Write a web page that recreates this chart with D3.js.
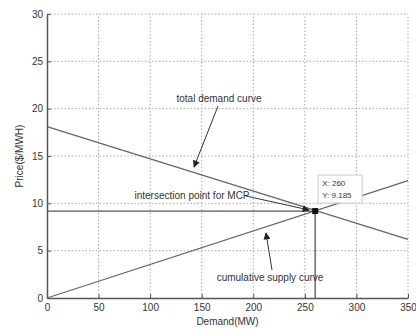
<!DOCTYPE html>
<html>
<head>
<meta charset="utf-8">
<script src="https://cdn.jsdelivr.net/npm/d3@7"></script>
<style>
  body { margin: 0; background: #fff; }
  text { font-family: "Liberation Sans", Arial, sans-serif; fill: #333; }
</style>
</head>
<body>
<div id="chart"></div>
<script>
// Market clearing price chart

var xTicks = [0, 50, 100, 150, 200, 250, 300, 350];
var yTicks = [0, 5, 10, 15, 20, 25, 30];

// curves: [demand MW, price $/MWH]
var demandCurve = [[0, 18.1], [350, 6.2]];
var supplyCurve = [[0, 0], [350, 12.4]];

// intersection point (data tip)
var mcpX = 260;
var mcpY = 9.185;

var width = 416, height = 329;
var margin = {top: 14, right: 8, bottom: 31, left: 47};

var svg = d3.select("#chart")
    .append("svg")
    .attr("width", width)
    .attr("height", height);

var x = d3.scaleLinear().domain([0, 350]).range([margin.left, width - margin.right]);
var y = d3.scaleLinear().domain([0, 30]).range([height - margin.bottom, margin.top]);

var defs = svg.append("defs");
defs.append("marker")
    .attr("id", "arrow")
    .attr("viewBox", "0 0 10 10")
    .attr("refX", 9)
    .attr("refY", 5)
    .attr("markerWidth", 9)
    .attr("markerHeight", 7)
    .attr("markerUnits", "userSpaceOnUse")
    .attr("orient", "auto")
    .append("path")
    .attr("d", "M0,0 L10,5 L0,10 Z")
    .attr("fill", "#222");

// grid
var grid = svg.append("g").attr("class", "grid");
grid.selectAll("line.vx")
    .data(xTicks.slice(1))
    .enter().append("line")
    .attr("x1", function(d) { return x(d); })
    .attr("x2", function(d) { return x(d); })
    .attr("y1", y(0))
    .attr("y2", y(30))
    .attr("stroke", "#aaa")
    .attr("stroke-dasharray", "1.5,2");
grid.selectAll("line.hy")
    .data(yTicks.slice(1))
    .enter().append("line")
    .attr("y1", function(d) { return y(d); })
    .attr("y2", function(d) { return y(d); })
    .attr("x1", x(0))
    .attr("x2", x(350))
    .attr("stroke", "#aaa")
    .attr("stroke-dasharray", "1.5,2");

// axes
var xAxis = svg.append("g")
    .attr("transform", "translate(0," + y(0) + ")")
    .call(d3.axisBottom(x).tickValues(xTicks).tickSizeInner(-4).tickSizeOuter(0).tickPadding(6));
var yAxis = svg.append("g")
    .attr("transform", "translate(" + x(0) + ",0)")
    .call(d3.axisLeft(y).tickValues(yTicks).tickSizeInner(-4).tickSizeOuter(0).tickPadding(4));

[xAxis, yAxis].forEach(function(a) {
    a.select(".domain").attr("stroke", "#555").attr("stroke-width", 1.5);
    a.selectAll(".tick line").attr("stroke", "#555");
    a.selectAll(".tick text")
        .style("font-size", "10px")
        .style("font-family", "'Liberation Sans', Arial, sans-serif")
        .attr("fill", "#444");
});

// curves
var line = d3.line()
    .x(function(d) { return x(d[0]); })
    .y(function(d) { return y(d[1]); });

svg.append("path").datum(demandCurve)
    .attr("d", line).attr("fill", "none")
    .attr("stroke", "#666").attr("stroke-width", 1.3);
svg.append("path").datum(supplyCurve)
    .attr("d", line).attr("fill", "none")
    .attr("stroke", "#666").attr("stroke-width", 1.3);

// MCP guide lines
svg.append("path").datum([[0, mcpY], [mcpX, mcpY]])
    .attr("d", line).attr("fill", "none")
    .attr("stroke", "#555").attr("stroke-width", 1.3);
svg.append("path").datum([[mcpX, 0], [mcpX, mcpY]])
    .attr("d", line).attr("fill", "none")
    .attr("stroke", "#555").attr("stroke-width", 1.3);

svg.append("rect")
    .attr("x", x(mcpX) - 3)
    .attr("y", y(mcpY) - 3)
    .attr("width", 6)
    .attr("height", 6)
    .attr("fill", "#111");

// data tip
var tip = svg.append("g")
    .attr("transform", "translate(" + (x(mcpX) + 3) + "," + (y(mcpY) - 36) + ")");
tip.append("rect")
    .attr("width", 44)
    .attr("height", 28)
    .attr("fill", "#fff")
    .attr("stroke", "#ccc");
tip.append("text").attr("x", 4).attr("y", 11)
    .style("font-size", "8px").text("X: " + mcpX);
tip.append("text").attr("x", 4).attr("y", 23)
    .style("font-size", "8px").text("Y: " + mcpY);

// annotations
function annotate(label, tx, ty, from, to) {
    svg.append("text")
        .attr("x", tx)
        .attr("y", ty)
        .attr("text-anchor", "middle")
        .style("font-size", "10px")
        .text(label);
    svg.append("line")
        .attr("x1", from[0]).attr("y1", from[1])
        .attr("x2", to[0]).attr("y2", to[1])
        .attr("stroke", "#333")
        .attr("stroke-width", 1)
        .attr("marker-end", "url(#arrow)");
}

annotate("total demand curve", 219, 102, [218, 106], [194, 167]);
annotate("intersection point for MCP", 192, 199, [246, 196], [309, 210]);
annotate("cumulative supply curve", 270, 281, [272, 270], [266, 233]);

// axis labels
svg.append("text")
    .attr("x", (x(0) + x(350)) / 2)
    .attr("y", 325)
    .attr("text-anchor", "middle")
    .style("font-size", "10px")
    .text("Demand(MW)");

svg.append("text")
    .attr("transform", "translate(23," + ((y(0) + y(30)) / 2) + ") rotate(-90)")
    .attr("text-anchor", "middle")
    .style("font-size", "10px")
    .text("Price($/MWH)");
</script>
</body>
</html>
